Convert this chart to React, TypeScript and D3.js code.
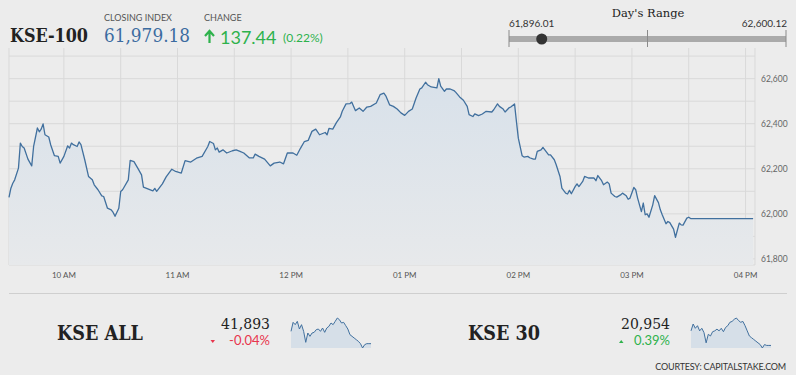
import React from "react";
import * as d3 from "d3";

// KSE-100 intraday (time, index value)
const times = [
  "9:31", "9:32", "9:33", "9:34", "9:36", "9:37", "9:38", "9:39", "9:41", "9:43",
  "9:44", "9:46", "9:47", "9:48", "9:49", "9:50", "9:52", "9:53", "9:55", "9:57",
  "9:58", "10:00", "10:02", "10:03", "10:04", "10:05", "10:07", "10:08", "10:09", "10:11",
  "10:13", "10:15", "10:16", "10:18", "10:20", "10:21", "10:23", "10:25", "10:26", "10:27",
  "10:29", "10:30", "10:31", "10:34", "10:35", "10:37", "10:39", "10:41", "10:42", "10:44",
  "10:47", "10:48", "10:49", "10:52", "10:54", "10:57", "10:59", "11:02", "11:04", "11:06",
  "11:07", "11:10", "11:13", "11:16", "11:17", "11:19", "11:20", "11:21", "11:22", "11:24",
  "11:26", "11:29", "11:31", "11:33", "11:35", "11:38", "11:40", "11:41", "11:43", "11:46",
  "11:49", "11:51", "11:54", "11:56", "11:58", "12:01", "12:03", "12:05", "12:07", "12:09",
  "12:11", "12:13", "12:15", "12:18", "12:19", "12:20", "12:22", "12:24", "12:26", "12:27",
  "12:29", "12:31", "12:32", "12:34", "12:36", "12:38", "12:40", "12:42", "12:45", "12:47",
  "12:49", "12:50", "12:52", "12:54", "12:56", "12:58", "13:00", "13:02", "13:04", "13:06",
  "13:08", "13:09", "13:11", "13:12", "13:14", "13:17", "13:18", "13:19", "13:21", "13:22",
  "13:24", "13:26", "13:27", "13:29", "13:31", "13:33", "13:34", "13:36", "13:37", "13:39",
  "13:41", "13:43", "13:46", "13:47", "13:49", "13:50", "13:52", "13:53", "13:55", "13:56",
  "13:58", "13:59", "14:00", "14:02", "14:03", "14:05", "14:06", "14:08", "14:09", "14:10",
  "14:12", "14:13", "14:14", "14:16", "14:17", "14:19", "14:20", "14:22", "14:23", "14:25",
  "14:26", "14:27", "14:28", "14:30", "14:31", "14:32", "14:34", "14:35", "14:37", "14:39",
  "14:40", "14:41", "14:42", "14:44", "14:45", "14:47", "14:48", "14:49", "14:51", "14:52",
  "14:54", "14:55", "14:57", "14:58", "14:59", "15:01", "15:02", "15:03", "15:05", "15:06",
  "15:07", "15:08", "15:09", "15:11", "15:12", "15:14", "15:15", "15:16", "15:18", "15:19",
  "15:20", "15:22", "15:23", "15:25", "15:26", "15:27", "15:29", "15:30", "15:31", "16:04",
];
const kse100 = [
  62073, 62114, 62136, 62151, 62203, 62314, 62299, 62292, 62243, 62213,
  62299, 62381, 62364, 62376, 62399, 62351, 62341, 62307, 62258, 62255,
  62225, 62255, 62302, 62292, 62314, 62307, 62299, 62319, 62307, 62240,
  62166, 62151, 62129, 62107, 62080, 62077, 62025, 62018, 62006, 61989,
  62025, 62099, 62107, 62151, 62237, 62232, 62203, 62173, 62119, 62112,
  62102, 62113, 62100, 62133, 62164, 62198, 62188, 62181, 62236, 62232,
  62230, 62247, 62255, 62299, 62321, 62312, 62284, 62292, 62274, 62284,
  62270, 62280, 62284, 62277, 62270, 62248, 62248, 62265, 62255, 62243,
  62213, 62225, 62230, 62222, 62270, 62270, 62260, 62292, 62321, 62326,
  62366, 62376, 62351, 62361, 62351, 62379, 62376, 62406, 62430, 62455,
  62488, 62489, 62496, 62458, 62470, 62455, 62474, 62477, 62492, 62529,
  62536, 62524, 62484, 62477, 62465, 62448, 62437, 62455, 62465, 62514,
  62554, 62559, 62584, 62573, 62563, 62559, 62600, 62567, 62544, 62554,
  62554, 62547, 62539, 62519, 62504, 62477, 62440, 62432, 62444, 62436,
  62443, 62455, 62452, 62462, 62488, 62477, 62465, 62452, 62470, 62474,
  62488, 62410, 62336, 62258, 62252, 62255, 62249, 62243, 62243, 62277,
  62284, 62295, 62284, 62262, 62262, 62240, 62218, 62166, 62114, 62092,
  62088, 62104, 62089, 62121, 62133, 62121, 62144, 62166, 62159, 62159,
  62159, 62147, 62170, 62147, 62129, 62141, 62133, 62092, 62077, 62074,
  62084, 62092, 62080, 62065, 62070, 62117, 62107, 62070, 62010, 62048,
  61996, 62000, 61985, 62040, 62081, 62050, 62018, 61996, 61956, 61966,
  61961, 61932, 61896, 61959, 61951, 61950, 61981, 61985, 61979, 61979,
];

const yTicks = [61800, 62000, 62200, 62400, 62600];
const xTickLabels = ["10 AM", "11 AM", "12 PM", "01 PM", "02 PM", "03 PM", "04 PM"];
const xTickTimes = ["10:00", "11:00", "12:00", "13:00", "14:00", "15:00", "16:00"];

// mini charts
const kseAllSpark = [
  41930, 41957, 41950, 41960, 41937, 41950, 41930, 41897, 41925, 41915,
  41925, 41927, 41935, 41937, 41930, 41940, 41927, 41940, 41945, 41955,
  41950, 41960, 41970, 41965, 41955, 41957, 41947, 41937, 41920, 41915,
  41910, 41905, 41900, 41893, 41880, 41890, 41893, 41893, 41893,
];
const kse30Spark = [
  20988, 21004, 20994, 21000, 20988, 20994, 20984, 20960, 20980, 20976,
  20986, 20988, 20992, 20988, 20994, 20986, 20996, 21000, 21008, 21010,
  21015, 21018, 21012, 21008, 21010, 21000, 20988, 20976, 20972, 20968,
  20964, 20960, 20956, 20948, 20956, 20954, 20954, 20954,
];

const dayLow = 61896.01;
const dayHigh = 62600.12;
const closing = 61979.18;

const parse = (s: string) => {
  const [h, m] = s.split(":").map(Number);
  return new Date(2021, 0, 4, h, m);
};

const BLUE = "#41709e";
const GREEN = "#2eb24c";
const RED = "#e8354d";
const GRID = "#d9d9d9";
const SERIF = "'DejaVu Serif', serif";
const SANS = "Lato, 'Open Sans', sans-serif";

function Spark({ data, x0, x1 }: { data: number[]; x0: number; x1: number }) {
  const sx = d3.scaleLinear().domain([0, data.length - 1]).range([x0, x1]);
  const sy = d3.scaleLinear().domain(d3.extent(data) as [number, number]).range([348, 318]);
  const area = d3.area<number>().x((_, i) => sx(i)).y0(348).y1((d) => sy(d));
  const line = d3.line<number>().x((_, i) => sx(i)).y((d) => sy(d));
  return (
    <g>
      <path d={area(data) || ""} fill="#d6dfe8" />
      <path d={line(data) || ""} fill="none" stroke={BLUE} strokeWidth={1} />
    </g>
  );
}

export default function App() {
  const left = 9;
  const right = 755;
  const top = 48;
  const bottom = 265;

  const x = d3.scaleTime().domain([parse("9:31"), parse("16:05")]).range([left, right]);
  const y = d3.scaleLinear().domain([61773, 62736]).range([bottom, top]);

  const pts = times.map((t, i) => ({ t: parse(t), v: kse100[i] }));
  const line = d3.line<{ t: Date; v: number }>().x((d) => x(d.t)).y((d) => y(d.v));
  const area = d3
    .area<{ t: Date; v: number }>()
    .x((d) => x(d.t))
    .y0(bottom)
    .y1((d) => y(d.v));

  const vGrid = x.ticks(d3.timeMinute.every(30) as d3.TimeInterval);
  const hGrid = d3.range(61800, 62701, 100);

  const rx = d3.scaleLinear().domain([dayLow, dayHigh]).range([509, 786]);

  return (
    <svg
      width={796}
      height={375}
      style={{ position: "absolute", left: 0, top: 0, background: "#ececec" }}
    >
      <rect width={796} height={375} fill="#ececec" />
      <defs>
        <linearGradient id="fillGrad" gradientUnits="userSpaceOnUse" x1={0} y1={78} x2={0} y2={bottom}>
          <stop offset="0" stopColor="#d8e1ea" />
          <stop offset="1" stopColor="#e7e9eb" />
        </linearGradient>
      </defs>

      {/* grid */}
      {hGrid.map((v) => (
        <line key={"h" + v} x1={left} x2={right} y1={y(v)} y2={y(v)} stroke={GRID} strokeWidth={1} />
      ))}
      {vGrid.map((t) => (
        <line key={"v" + +t} x1={x(t)} x2={x(t)} y1={top} y2={bottom} stroke={GRID} strokeWidth={1} />
      ))}
      <line x1={left} x2={left} y1={top} y2={bottom} stroke={GRID} />
      <line x1={right} x2={right} y1={top} y2={bottom} stroke={GRID} />
      <line x1={left} x2={right} y1={bottom} y2={bottom} stroke={GRID} />

      <path d={area(pts) || ""} fill="url(#fillGrad)" />
      <path d={line(pts) || ""} fill="none" stroke={BLUE} strokeWidth={1.3} strokeLinejoin="round" />

      {yTicks.map((v) => (
        <text key={"yt" + v} x={761} y={y(v)} dy="0.35em" fontFamily={SANS} fontSize={8.5} fill="#666">
          {d3.format(",")(v)}
        </text>
      ))}
      {xTickLabels.map((s, i) => (
        <text
          key={s}
          x={x(parse(xTickTimes[i]))}
          y={278}
          textAnchor="middle"
          fontFamily={SANS}
          fontSize={8}
          fill="#555"
        >
          {s}
        </text>
      ))}

      {/* header */}
      <text x={10} y={42} fontFamily={SERIF} fontWeight="bold" fontSize={18} fill="#222" textLength={78} lengthAdjust="spacingAndGlyphs">
        KSE-100
      </text>
      <text x={104} y={21} fontFamily={SANS} fontSize={9} fill="#555">CLOSING INDEX</text>
      <text x={104} y={42} fontFamily={SERIF} fontSize={18} fill="#3b6ba0" textLength={86} lengthAdjust="spacingAndGlyphs">
        {d3.format(",.2f")(closing)}
      </text>
      <text x={204} y={21} fontFamily={SANS} fontSize={9} fill="#555">CHANGE</text>
      <path d="M209.5,43 V31 M205,36 L209.5,31 L214,36" fill="none" stroke={GREEN} strokeWidth={2.2} />
      <text x={220} y={44} fontFamily={SANS} fontSize={18} fill={GREEN}>137.44</text>
      <text x={283} y={42} fontFamily={SANS} fontSize={12} fill={GREEN}>(0.22%)</text>

      {/* day's range */}
      <text x={648} y={17} textAnchor="middle" fontFamily={SERIF} fontSize={11.5} fill="#222">Day's Range</text>
      <text x={509} y={27} fontFamily={SANS} fontSize={10} fill="#333">{d3.format(",.2f")(dayLow)}</text>
      <text x={787} y={27} textAnchor="end" fontFamily={SANS} fontSize={10} fill="#333">{d3.format(",.2f")(dayHigh)}</text>
      <line x1={rx(dayLow)} x2={rx(dayHigh)} y1={39} y2={39} stroke="#aaaaaa" strokeWidth={6} />
      {[dayLow, (dayLow + dayHigh) / 2, dayHigh].map((v) => (
        <line key={"rt" + v} x1={rx(v)} x2={rx(v)} y1={30} y2={47} stroke="#8a8a8a" strokeWidth={1} />
      ))}
      <circle cx={rx(closing)} cy={39} r={5.5} fill="#333" />

      {/* bottom section */}
      <line x1={9} x2={787} y1={293.5} y2={293.5} stroke="#cfcfcf" strokeWidth={1} />

      <text x={57} y={340} fontFamily={SERIF} fontWeight="bold" fontSize={20} fill="#222" textLength={86} lengthAdjust="spacingAndGlyphs">
        KSE ALL
      </text>
      <text x={270} y={329} textAnchor="end" fontFamily={SERIF} fontSize={14} fill="#222">41,893</text>
      <path d="M210.5,340 L215,340 L212.75,343 Z" fill={RED} />
      <text x={270} y={344.5} textAnchor="end" fontFamily={SANS} fontSize={13} fill={RED}>-0.04%</text>
      <Spark data={kseAllSpark} x0={291} x1={371} />

      <text x={468} y={340} fontFamily={SERIF} fontWeight="bold" fontSize={20} fill="#222" textLength={72} lengthAdjust="spacingAndGlyphs">
        KSE 30
      </text>
      <text x={670} y={329} textAnchor="end" fontFamily={SERIF} fontSize={14} fill="#222">20,954</text>
      <path d="M619,343 L623.5,343 L621.25,340 Z" fill={GREEN} />
      <text x={670} y={344.5} textAnchor="end" fontFamily={SANS} fontSize={13} fill={GREEN}>0.39%</text>
      <Spark data={kse30Spark} x0={691} x1={771} />

      <text x={786} y={370} textAnchor="end" fontFamily={SANS} fontSize={9} fill="#333" letterSpacing={-0.2}>
        COURTESY: CAPITALSTAKE.COM
      </text>
    </svg>
  );
}
